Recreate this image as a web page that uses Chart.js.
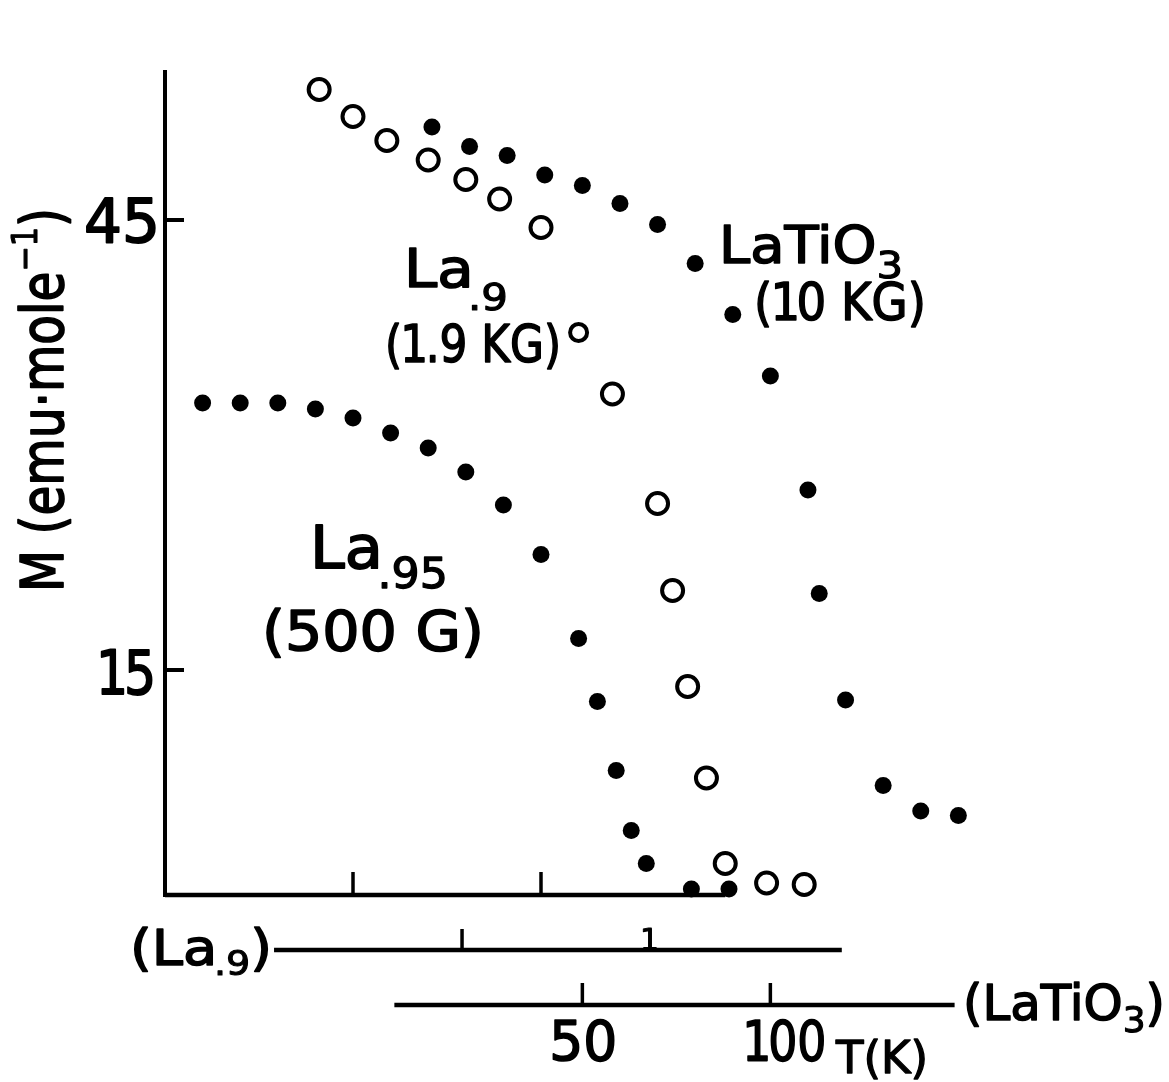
<!DOCTYPE html>
<html>
<head>
<meta charset="utf-8">
<title>M vs T</title>
<script src="https://cdn.jsdelivr.net/npm/chart.js@4.4.1/dist/chart.umd.min.js"></script>
<style>
    html, body { margin: 0; padding: 0; background: #fff; }
    #wrap { position: relative; width: 1169px; height: 1082px; }
</style>
</head>
<body>
<div id="wrap"><canvas id="myChart" width="1169" height="1082"></canvas></div>
<script>
"use strict";

// La.95 (500 G), filled dots, top T scale (unlabelled)
var la95T = [0.1, 0.2, 0.3, 0.4, 0.5, 0.6, 0.7, 0.8, 0.9, 1.0, 1.1, 1.15, 1.2, 1.24, 1.28, 1.4, 1.5];
var la95M = [32.8, 32.8, 32.8, 32.4, 31.8, 30.8, 29.8, 28.2, 26.0, 22.7, 17.1, 12.9, 8.3, 4.3, 2.1, 0.4, 0.4];

// La.9 (1.9 KG), open circles, middle T scale
var la9T = [0.12, 0.21, 0.3, 0.41, 0.51, 0.6, 0.71, 0.81, 0.9, 1.02, 1.06, 1.1, 1.15, 1.2, 1.31, 1.41];
var la9M = [53.7, 51.9, 50.3, 49.0, 47.7, 46.4, 44.5, 37.5, 33.4, 26.1, 20.3, 13.9, 7.8, 2.1, 0.8, 0.7];

// LaTiO3 (10 KG), filled dots, bottom T scale in K
var latio3T = [10, 20, 30, 40, 50, 60, 70, 80, 90, 100, 110, 113, 120, 130, 140, 150];
var latio3M = [51.2, 49.9, 49.3, 48.0, 47.3, 46.1, 44.7, 42.1, 38.7, 34.6, 27.0, 20.1, 13.0, 7.3, 5.6, 5.3];

// axes: extents and ticks
var mRange = [0, 55];
var mTicks = [15, 45];
var la95Range = [0, 1.49];
var la95Ticks = [0.5, 1];
var la9Range = [0, 1.51];
var la9Ticks = [0.5, 1];
var latio3Range = [0, 149];
var latio3Ticks = [50, 100];
var latio3TickLabels = ['50', '100'];

var FONT = '"DejaVu Sans", sans-serif';
var INK = '#000';

function pairs(xs, ys) {
    return xs.map(function (x, i) { return { x: x, y: ys[i] }; });
}

// draws runs of text (main, sub/superscripts) from x at baseline y,
// squeezed or stretched to the given width; gap tightens narrow glyphs like "1"
function drawRich(ctx, parts, x, y, width) {
    var natural = 0;
    parts.forEach(function (p) {
        ctx.font = p.size + 'px ' + FONT;
        natural += ctx.measureText(p.t).width + (p.gap || 0);
    });
    var k = width ? width / natural : 1;
    ctx.save();
    ctx.translate(x, y);
    ctx.scale(k, 1);
    ctx.fillStyle = INK;
    ctx.strokeStyle = INK;
    ctx.lineJoin = 'round';
    ctx.textBaseline = 'alphabetic';
    ctx.textAlign = 'left';
    var cx = 0;
    parts.forEach(function (p) {
        ctx.font = p.size + 'px ' + FONT;
        ctx.lineWidth = p.size * 0.03;
        ctx.fillText(p.t, cx, p.dy || 0);
        ctx.strokeText(p.t, cx, p.dy || 0);
        cx += ctx.measureText(p.t).width + (p.gap || 0);
    });
    ctx.restore();
}

function line(ctx, x0, y0, x1, y1, w) {
    ctx.beginPath();
    ctx.lineWidth = w || 4;
    ctx.strokeStyle = INK;
    ctx.lineCap = 'butt';
    ctx.moveTo(x0, y0);
    ctx.lineTo(x1, y1);
    ctx.stroke();
}

// hand-drawn style axes: one M axis, three stacked T axes
var axesPlugin = {
    id: 'stackedAxes',
    beforeDatasetsDraw: function (chart) {
        var ctx = chart.ctx;
        var y = chart.scales.y;
        var xa = chart.scales.x;
        var x9 = chart.scales.xLa9;
        var xt = chart.scales.xLaTiO3;
        var y0 = y.getPixelForValue(0);
        var left = xa.getPixelForValue(0);

        ctx.save();
        // M axis
        line(ctx, left, y.getPixelForValue(mRange[1]), left, y0 + 2, 4);
        mTicks.forEach(function (v) {
            var py = y.getPixelForValue(v);
            line(ctx, left, py, left + 19, py, 4);
        });

        // La.95 T axis
        line(ctx, xa.getPixelForValue(la95Range[0]), y0, xa.getPixelForValue(la95Range[1]), y0, 4.5);
        la95Ticks.forEach(function (v) {
            var px = xa.getPixelForValue(v);
            line(ctx, px, y0, px, y0 - 23, 3.5);
        });

        // La.9 T axis
        var y9 = y0 + 55;
        line(ctx, x9.getPixelForValue(la9Range[0]), y9, x9.getPixelForValue(la9Range[1]), y9, 4.5);
        la9Ticks.forEach(function (v) {
            var px = x9.getPixelForValue(v);
            line(ctx, px, y9, px, y9 - 21, 3.5);
        });

        // LaTiO3 T axis
        var yt = y0 + 110;
        line(ctx, xt.getPixelForValue(latio3Range[0]), yt, xt.getPixelForValue(latio3Range[1]), yt, 4.5);
        latio3Ticks.forEach(function (v) {
            var px = xt.getPixelForValue(v);
            line(ctx, px, yt, px, yt - 22, 3.5);
        });
        ctx.restore();
    },
    afterDraw: function (chart) {
        var ctx = chart.ctx;
        var y = chart.scales.y;
        var x9 = chart.scales.xLa9;
        var xt = chart.scales.xLaTiO3;
        var y0 = y.getPixelForValue(0);

        // M tick labels
        var p45 = y.getPixelForValue(mTicks[1]);
        var p15 = y.getPixelForValue(mTicks[0]);
        drawRich(ctx, [{ t: String(mTicks[1]), size: 60 }], 84, p45 + 22, 76);
        drawRich(ctx, [{ t: '1', size: 60, gap: -5 }, { t: '5', size: 60 }], 96, p15 + 24, 60);

        // M axis title, reading upwards
        ctx.save();
        ctx.translate(63, 592);
        ctx.rotate(-Math.PI / 2);
        drawRich(ctx, [
            { t: 'M (emu\u00B7mole', size: 58 },
            { t: '\u22121', size: 36, dy: -26 },
            { t: ')', size: 58 }
        ], 0, 0, 384);
        ctx.restore();

        // "1" on the La.9 scale
        var one = x9.getPixelForValue(la9Ticks[1]);
        drawRich(ctx, [{ t: '1', size: 30 }], one - 10, y0 + 55, 19);

        // LaTiO3 scale numbers and T(K)
        drawRich(ctx, [{ t: latio3TickLabels[0], size: 55 }], xt.getPixelForValue(latio3Ticks[0]) - 33, y0 + 165, 68);
        drawRich(ctx, [{ t: '1', size: 55, gap: -4 }, { t: '00', size: 55 }],
            xt.getPixelForValue(latio3Ticks[1]) - 28, y0 + 165, 84);
        drawRich(ctx, [{ t: 'T(K)', size: 44 }], 836, y0 + 178, 92);

        // scale captions
        drawRich(ctx, [
            { t: '(La', size: 50, gap: -3 },
            { t: '.9', size: 34, dy: 10 },
            { t: ')', size: 50 }
        ], 130, y0 + 70, 142);
        drawRich(ctx, [
            { t: '(LaTiO', size: 50 },
            { t: '3', size: 36, dy: 12 },
            { t: ')', size: 50 }
        ], 963, y0 + 125, 202);

        // series captions
        drawRich(ctx, [{ t: 'La', size: 54, gap: -5 }, { t: '.9', size: 38, dy: 23 }], 404, 287, 104);
        drawRich(ctx, [
            { t: '(', size: 51, gap: -2 },
            { t: '1', size: 51, gap: -3 },
            { t: '.9 KG)', size: 51 }
        ], 385, 362, 176);
        drawRich(ctx, [{ t: 'LaTiO', size: 51 }, { t: '3', size: 38, dy: 15 }], 719, 263, 184);
        drawRich(ctx, [
            { t: '(', size: 51, gap: -2 },
            { t: '1', size: 51, gap: -4 },
            { t: '0 KG)', size: 51 }
        ], 754, 320, 172);
        drawRich(ctx, [{ t: 'La', size: 59, gap: -5 }, { t: '.95', size: 42, dy: 20 }], 310, 568, 138);
        drawRich(ctx, [{ t: '(500 G)', size: 55 }], 262, 650, 222);
    }
};

new Chart(document.getElementById('myChart'), {
    type: 'scatter',
    data: {
        datasets: [{
            label: 'La.95 (500 G)',
            data: pairs(la95T, la95M),
            xAxisID: 'x',
            pointStyle: 'circle',
            pointRadius: 8.5,
            backgroundColor: INK,
            borderWidth: 0,
            clip: false
        }, {
            label: 'La.9 (1.9 KG)',
            data: pairs(la9T, la9M),
            xAxisID: 'xLa9',
            pointStyle: 'circle',
            // the point next to the caption is drawn a little smaller
            pointRadius: function (c) { return c.dataIndex === 7 ? 8.5 : 10.5; },
            backgroundColor: 'rgba(255,255,255,0)',
            borderColor: INK,
            borderWidth: 4,
            clip: false
        }, {
            label: 'LaTiO3 (10 KG)',
            data: pairs(latio3T, latio3M),
            xAxisID: 'xLaTiO3',
            pointStyle: 'circle',
            pointRadius: 8.5,
            backgroundColor: INK,
            borderWidth: 0,
            clip: false
        }]
    },
    options: {
        responsive: false,
        animation: false,
        events: [],
        layout: { padding: { left: 165, right: 64, top: 70, bottom: 187 } },
        plugins: {
            legend: { display: false },
            tooltip: { enabled: false }
        },
        scales: {
            x: { type: 'linear', display: false, min: 0, max: 2.5 },
            xLa9: { type: 'linear', display: false, min: -0.29, max: 2.21 },
            xLaTiO3: { type: 'linear', display: false, min: -61, max: 189 },
            y: { type: 'linear', display: false, min: mRange[0], max: mRange[1] }
        }
    },
    plugins: [axesPlugin]
});
</script>
</body>
</html>
